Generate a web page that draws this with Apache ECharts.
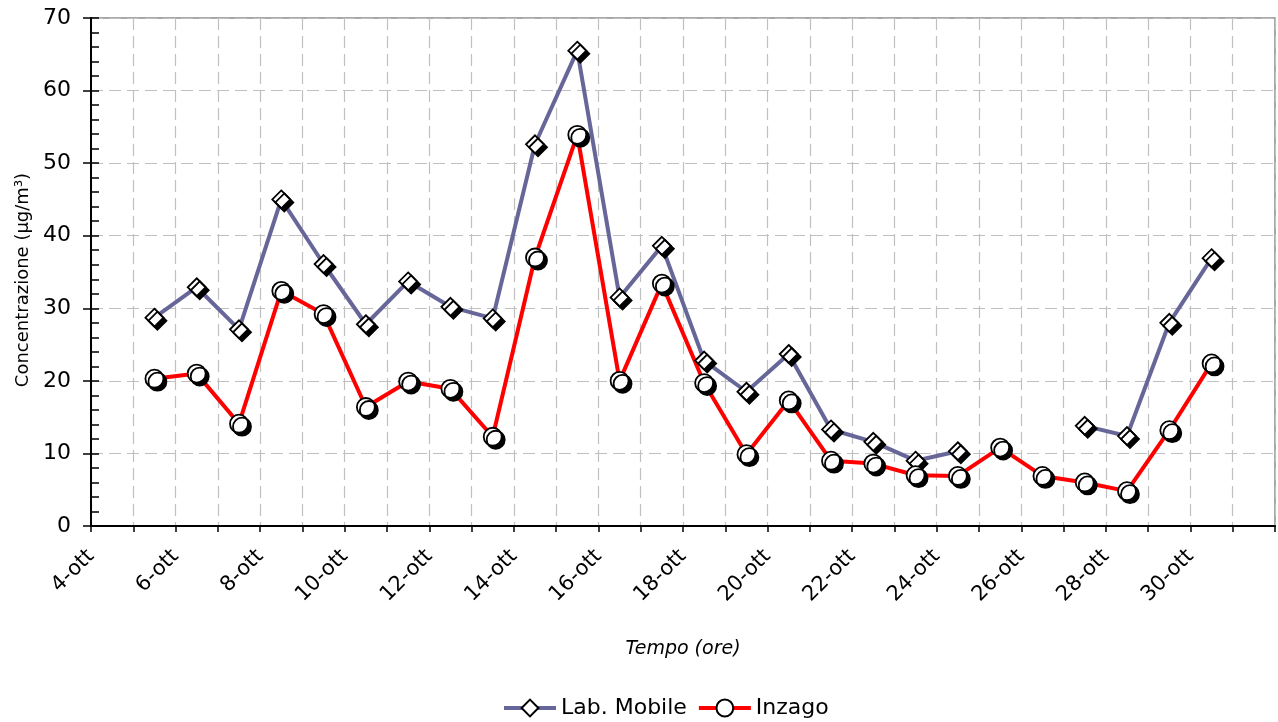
<!DOCTYPE html>
<html>
<head>
<meta charset="utf-8">
<script src="https://cdn.jsdelivr.net/npm/echarts@6/dist/echarts.min.js"></script>
<style>
  html, body { margin: 0; padding: 0; background: #fff; }
  #chart { width: 1278px; height: 722px; }
</style>
</head>
<body>
<div id="chart"></div>
<script>
// Day of October of each daily mean (plotted at midday)
const days = [5, 6, 7, 8, 9, 10, 11, 12, 13, 14, 15, 16, 17, 18, 19, 20, 21, 22, 23, 24, 25, 26, 27, 28, 29, 30];
const sampleHour = 12;
const labMobile = [28.7, 32.9, 27.1, 45.0, 36.1, 27.8, 33.7, 30.2, 28.6, 52.6, 65.5, 31.5, 38.6, 22.8, 18.5, 23.7, 13.3, 11.6, 9.0, 10.3, null, null, 13.8, 12.4, 28.0, 36.9];
const inzago = [20.3, 21.0, 14.1, 32.4, 29.2, 16.4, 19.9, 18.9, 12.3, 37.0, 53.9, 20.0, 33.4, 19.7, 9.9, 17.3, 9.0, 8.6, 7.0, 6.9, 10.8, 6.9, 6.0, 4.8, 13.2, 22.4];
const seriesNames = ['Lab. Mobile', 'Inzago'];
const monthSuffix = 'ott';
const xMin = 4, xMax = 32, lastLabelDay = 30;
const yTicks = [0, 10, 20, 30, 40, 50, 60, 70];

const FONT = 'DejaVu Sans';
const toPairs = arr => arr.map((v, i) => [days[i] + sampleHour / 24, v]);

const markerStyle = {
  color: '#ffffff',
  borderColor: '#000000',
  borderWidth: 1.8,
  shadowColor: '#000000',
  shadowBlur: 0,
  shadowOffsetX: 3,
  shadowOffsetY: 3,
  opacity: 1
};

const chart = echarts.init(document.getElementById('chart'));
chart.setOption({
  animation: false,
  backgroundColor: '#ffffff',
  grid: {
    left: 91, right: 3, top: 18, bottom: 196,
    show: true, borderColor: '#8c8c8c', borderWidth: 1.5, backgroundColor: 'transparent'
  },
  legend: {
    left: 497, top: 692,
    itemWidth: 52, itemHeight: 21, itemGap: 10,
    textStyle: { fontFamily: FONT, fontSize: 22, color: '#000' },
    itemStyle: { shadowColor: 'rgba(0,0,0,0)', shadowBlur: 0, shadowOffsetX: 0, shadowOffsetY: 0 },
    lineStyle: { width: 4 },
    data: seriesNames
  },
  xAxis: {
    type: 'value',
    min: xMin, max: xMax, interval: 1,
    name: 'Tempo (ore)',
    nameLocation: 'middle',
    nameGap: 114,
    nameTextStyle: { fontFamily: FONT, fontSize: 19, fontStyle: 'italic', color: '#000' },
    axisLine: { show: true, onZero: false, lineStyle: { color: '#000', width: 2 } },
    axisTick: { show: true, length: 6, lineStyle: { color: '#000', width: 1.5 } },
    axisLabel: {
      rotate: 45, margin: 27,
      fontFamily: FONT, fontSize: 21, color: '#000',
      formatter: v => (v % 2 === 0 && v <= lastLabelDay) ? (v + '-' + monthSuffix) : ''
    },
    splitLine: { show: true, lineStyle: { color: '#c0c0c0', width: 1.2, type: [12, 6] } }
  },
  yAxis: [
    {
      type: 'value',
      min: yTicks[0], max: yTicks[yTicks.length - 1], interval: yTicks[1] - yTicks[0],
      name: 'Concentrazione (µg/m³)',
      nameLocation: 'middle',
      nameRotate: 90,
      nameGap: 54,
      nameTextStyle: { fontFamily: FONT, fontSize: 18, color: '#000', padding: [0, 16, 0, 0] },
      axisLine: { show: true, lineStyle: { color: '#000', width: 2 } },
      axisTick: { show: true, length: 8, lineStyle: { color: '#000', width: 1.5 } },
      axisLabel: { margin: 20, fontFamily: FONT, fontSize: 22, color: '#000' },
      splitLine: { show: true, lineStyle: { color: '#c0c0c0', width: 1.2, type: [12, 6] } }
    },
    {
      type: 'value',
      position: 'left',
      min: yTicks[0], max: yTicks[yTicks.length - 1], interval: yTicks[1] - yTicks[0],
      axisLine: { show: false },
      axisTick: { show: true, inside: true, length: 8, lineStyle: { color: '#000', width: 1.5 } },
      minorTick: { show: true, splitNumber: 5, length: 8, lineStyle: { color: '#000', width: 1.5 } },
      axisLabel: { show: false },
      splitLine: { show: false }
    }
  ],
  series: [
    {
      name: seriesNames[0],
      type: 'line',
      data: toPairs(labMobile),
      connectNulls: false,
      symbol: 'diamond',
      symbolSize: 18,
      showAllSymbol: true,
      lineStyle: { color: '#666699', width: 4 },
      itemStyle: markerStyle,
      emphasis: { disabled: true }
    },
    {
      name: seriesNames[1],
      type: 'line',
      data: toPairs(inzago),
      symbol: 'circle',
      symbolSize: 18,
      showAllSymbol: true,
      lineStyle: { color: '#ff0000', width: 4 },
      itemStyle: markerStyle,
      emphasis: { disabled: true }
    }
  ]
});
</script>
</body>
</html>
